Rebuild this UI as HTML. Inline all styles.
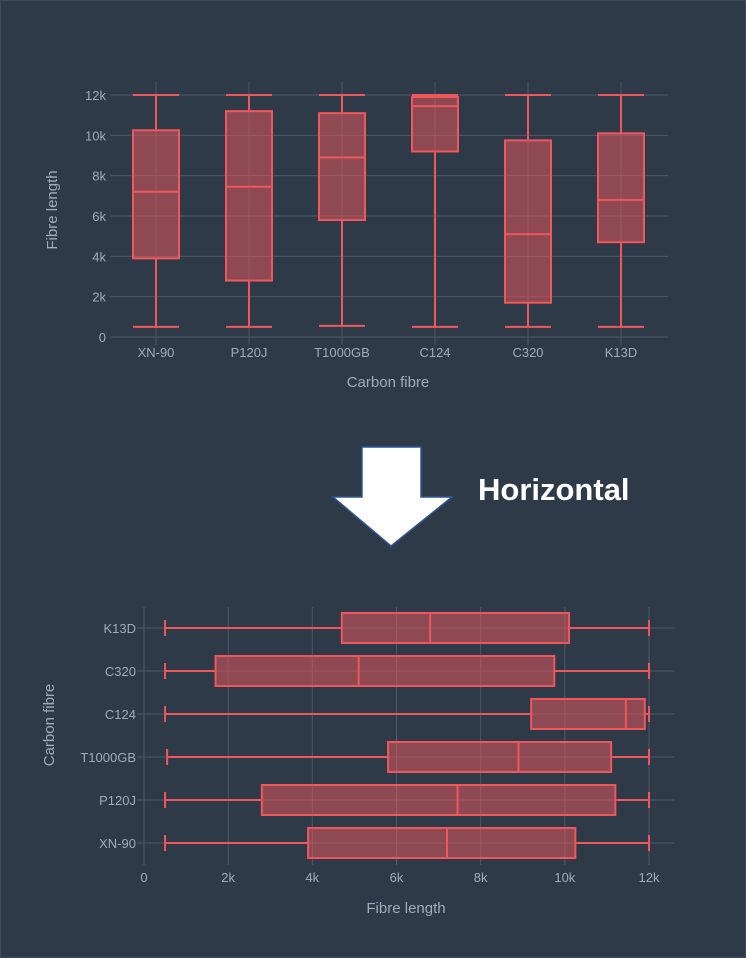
<!DOCTYPE html>
<html><head><meta charset="utf-8">
<style>
html,body{margin:0;padding:0;background:#2e3a48;}
body{width:746px;height:958px;overflow:hidden;position:relative;font-family:"Liberation Sans",sans-serif;}
svg{position:absolute;left:0;top:0;}
</style></head>
<body>
<svg id="s" width="746" height="958">
  <rect x="0.5" y="0.5" width="745" height="957" fill="#2e3a48" stroke="#3f4b59"/>
  <polygon points="362,447 421,447 421,497 452,497 391,546 333,497 362,497" fill="#ffffff" stroke="#2f5597" stroke-width="1.5"/>
  <text x="478" y="500" fill="#ffffff" font-size="31" font-weight="bold">Horizontal</text>
  <g id="top"></g>
  <g id="bot"></g>
</svg>
<script>
const categories=["XN-90","P120J","T1000GB","C124","C320","K13D"];
const mins=[500,500,550,500,500,500];
const q1s=[3900,2800,5800,9200,1700,4700];
const medians=[7200,7450,8900,11450,5100,6800];
const q3s=[10250,11200,11100,11900,9750,10100];
const maxs=[12000,12000,12000,12000,12000,12000];
const ticks=[0,2000,4000,6000,8000,10000,12000];
const tickLabels=["0","2k","4k","6k","8k","10k","12k"];
const NS="http://www.w3.org/2000/svg";
const GRID="#4c5866",TXT="#a3abb5",STROKE="#f0575c",FILL="rgba(240,87,92,0.5)";
function mk(p,tag,a){const e=document.createElementNS(NS,tag);for(const k in a)e.setAttribute(k,a[k]);p.appendChild(e);return e;}
// top chart
const T=document.getElementById('top');
const yv=v=>337-v*(242/12000);
const xc=i=>156+i*93;
ticks.forEach((t,i)=>{
  const l=mk(T,'line',{x1:110,x2:668,y1:yv(t),y2:yv(t),stroke:GRID,'stroke-width':1});
  
  
  const tx=mk(T,'text',{x:106,y:yv(t)+5,'text-anchor':'end',fill:TXT,'font-size':13});
  tx.textContent=tickLabels[i];
  
  
});
categories.forEach((c,i)=>{
  const x=xc(i),w=23;
  const g=mk(T,'line',{x1:x,x2:x,y1:82,y2:345,stroke:GRID});
  
  
  const wl=mk(T,'path',{d:`M${x},${yv(mins[i])}V${yv(q1s[i])}M${x},${yv(q3s[i])}V${yv(maxs[i])}M${x-23},${yv(mins[i])}H${x+23}M${x-23},${yv(maxs[i])}H${x+23}`,stroke:STROKE,'stroke-width':2,fill:'none'});
  
  
  const b=mk(T,'rect',{x:x-w,y:yv(q3s[i]),width:2*w,height:yv(q1s[i])-yv(q3s[i]),fill:FILL,stroke:STROKE,'stroke-width':2});
  
  
  const m=mk(T,'line',{x1:x-w,x2:x+w,y1:yv(medians[i]),y2:yv(medians[i]),stroke:STROKE,'stroke-width':2});
  
  
  const tx=mk(T,'text',{x:x,y:357,'text-anchor':'middle',fill:TXT,'font-size':13});
  tx.textContent=c;
  
  
});
let t1=mk(T,'text',{x:388,y:387,'text-anchor':'middle',fill:TXT,'font-size':15});
t1.textContent="Carbon fibre";


let t2=mk(T,'text',{x:0,y:0,'text-anchor':'middle',fill:TXT,'font-size':15,transform:'translate(57,210) rotate(-90)'});
t2.textContent="Fibre length";


// bottom chart
const B=document.getElementById('bot');
const xv=v=>144+v*(505/12000);
const yc=i=>843-i*43;
ticks.forEach((t,i)=>{
  const l=mk(B,'line',{x1:xv(t),x2:xv(t),y1:607,y2:865,stroke:GRID});
  
  
  const tx=mk(B,'text',{x:xv(t),y:882,'text-anchor':'middle',fill:TXT,'font-size':13});
  tx.textContent=tickLabels[i];
  
  
});
categories.forEach((c,i)=>{
  const y=yc(i),h=15;
  const g=mk(B,'line',{x1:137,x2:675,y1:y,y2:y,stroke:GRID});
  
  
  const wl=mk(B,'path',{d:`M${xv(mins[i])},${y}H${xv(q1s[i])}M${xv(q3s[i])},${y}H${xv(maxs[i])}M${xv(mins[i])},${y-8}V${y+8}M${xv(maxs[i])},${y-8}V${y+8}`,stroke:STROKE,'stroke-width':2,fill:'none'});
  
  
  const b=mk(B,'rect',{x:xv(q1s[i]),y:y-h,width:xv(q3s[i])-xv(q1s[i]),height:2*h,fill:FILL,stroke:STROKE,'stroke-width':2});
  
  
  const m=mk(B,'line',{x1:xv(medians[i]),x2:xv(medians[i]),y1:y-h,y2:y+h,stroke:STROKE,'stroke-width':2});
  
  
  const tx=mk(B,'text',{x:136,y:y+5,'text-anchor':'end',fill:TXT,'font-size':13});
  tx.textContent=c;
  
  
});
let t3=mk(B,'text',{x:406,y:913,'text-anchor':'middle',fill:TXT,'font-size':15});
t3.textContent="Fibre length";


let t4=mk(B,'text',{x:0,y:0,'text-anchor':'middle',fill:TXT,'font-size':15,transform:'translate(54,725) rotate(-90)'});
t4.textContent="Carbon fibre";


</script>
</body></html>
